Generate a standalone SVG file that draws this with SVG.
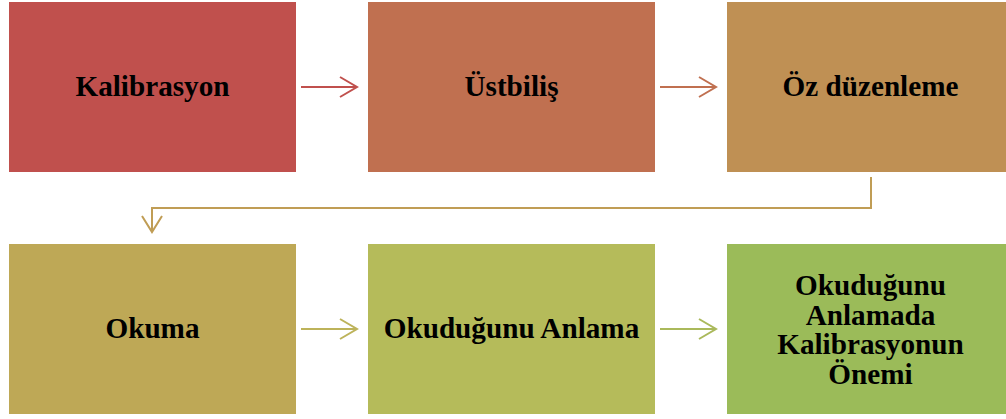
<svg xmlns="http://www.w3.org/2000/svg" width="1006" height="419" viewBox="0 0 1006 419">
<style>
text{font-family:"Liberation Serif","Times New Roman",serif;font-weight:bold;font-size:29.2px;fill:#000;text-anchor:middle}
.c{fill:none;stroke-width:2}
</style>
<rect width="1006" height="419" fill="#fff"/>
<g id="n1"><rect x="9" y="2" width="287" height="170" fill="#C0504D"/><text x="152.5" y="96">Kalibrasyon</text></g>
<g id="n2"><rect x="368" y="2" width="287" height="170" fill="#C07050"/><text x="511.5" y="96">Üstbiliş</text></g>
<g id="n3"><rect x="727" y="2" width="287" height="170" fill="#BF9054"/><text x="870.5" y="96">Öz düzenleme</text></g>
<g id="n4"><rect x="9" y="244" width="287" height="170" fill="#BEA856"/><text x="152.5" y="338">Okuma</text></g>
<g id="n5"><rect x="368" y="244" width="287" height="170" fill="#B5BB5A"/><text x="511.5" y="338">Okuduğunu Anlama</text></g>
<g id="n6"><rect x="727" y="244" width="287" height="170" fill="#9BBB59"/>
<text x="870.5" y="295">Okuduğunu</text><text x="870.5" y="324.5">Anlamada</text><text x="870.5" y="354">Kalibrasyonun</text><text x="870.5" y="383.5">Önemi</text></g>
<g id="connectors">
<path class="c" stroke="#C0504D" d="M301 87H357M340 77L357 87L340 97"/>
<path class="c" stroke="#C07050" d="M660 87H716M699 77L716 87L699 97"/>
<path class="c" stroke="#C09D55" d="M871 177V208H152V232M142 216L152 232L162 216"/>
<path class="c" stroke="#BDB35A" d="M301 329H357M340 319L357 329L340 339"/>
<path class="c" stroke="#AAB95B" d="M660 329H716M699 319L716 329L699 339"/>
</g>
</svg>
